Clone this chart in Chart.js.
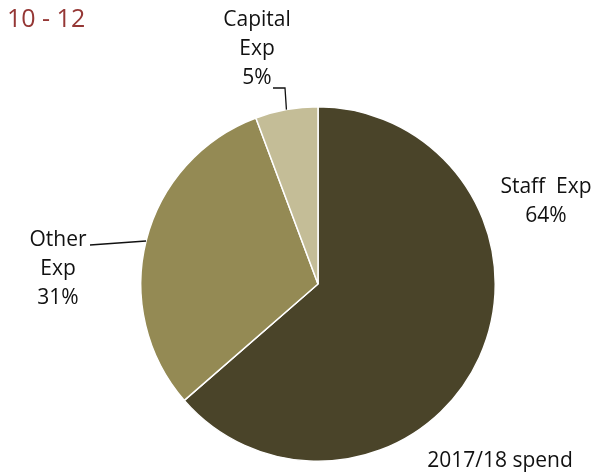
<!DOCTYPE html>
<html lang="en">
<head>
    <meta charset="utf-8" />
    <title>2017/18 spend</title>
    <script src="https://cdn.jsdelivr.net/npm/chart.js"></script>
    <style>
        body { margin: 0; background: #fff; }
        #wrap { position: relative; width: 614px; height: 474px; }
    </style>
</head>
<body>
    <div id="wrap"><canvas id="myChart" width="614" height="474"></canvas></div>
    <script>
        // chart data (slice sizes, labels as printed)
        const categories = ['Staff Exp', 'Other Exp', 'Capital Exp'];
        const shares = [63.6, 30.7, 5.7];
        const pctLabels = ['64%', '31%', '5%'];
        const sliceColors = ['#4a4429', '#948a54', '#c4bd97'];

        const FONT = '21px "Open Sans", Lato, sans-serif';

        // text labels + leader lines
        const labelPlugin = {
            id: 'labels',
            afterDraw(chart) {
                const ctx = chart.ctx;
                const arcs = chart.getDatasetMeta(0).data;
                ctx.save();
                ctx.textBaseline = 'middle';
                ctx.textAlign = 'left';
                ctx.font = '25px "Open Sans", Lato, sans-serif';
                ctx.fillStyle = '#953735';
                ctx.fillText('10 - 12', 7, 20);

                ctx.font = FONT;
                ctx.fillStyle = '#111';
                ctx.textAlign = 'center';
                const lines = (arr, x, y, gap) => arr.forEach((t, i) => ctx.fillText(t, x, y + i * gap));

                lines(['Staff  Exp', pctLabels[0]], 546, 187, 29);
                lines(['Other', 'Exp', pctLabels[1]], 58, 240, 29);
                lines(['Capital', 'Exp', pctLabels[2]], 257, 20, 29);
                ctx.fillText('2017/18 spend', 500, 461);

                ctx.strokeStyle = '#111';
                ctx.lineWidth = 1.3;
                // Other: to left edge of the pie
                const a1 = arcs[1];
                const dy = 241 - a1.y;
                ctx.beginPath();
                ctx.moveTo(90, 245);
                ctx.lineTo(a1.x - Math.sqrt(a1.outerRadius * a1.outerRadius - dy * dy), 241);
                ctx.stroke();
                // Capital: elbow to slice middle
                const a2 = arcs[2];
                const mid = (a2.startAngle + a2.endAngle) / 2;
                ctx.beginPath();
                ctx.moveTo(273, 88);
                ctx.lineTo(285, 88);
                ctx.lineTo(a2.x + Math.cos(mid) * a2.outerRadius, a2.y + Math.sin(mid) * a2.outerRadius);
                ctx.stroke();
                ctx.restore();
            }
        };

        const ctx = document.getElementById('myChart').getContext('2d');
        const myChart = new Chart(ctx, {
            type: 'pie',
            data: {
                labels: categories,
                datasets: [{
                    data: shares,
                    backgroundColor: sliceColors,
                    borderColor: '#ffffff',
                    borderWidth: 1.5
                }]
            },
            options: {
                responsive: false,
                animation: false,
                layout: { padding: { left: 140, right: 118, top: 106, bottom: 12 } },
                plugins: {
                    legend: { display: false },
                    tooltip: { enabled: false }
                }
            },
            plugins: [labelPlugin]
        });
    </script>
</body>
</html>
